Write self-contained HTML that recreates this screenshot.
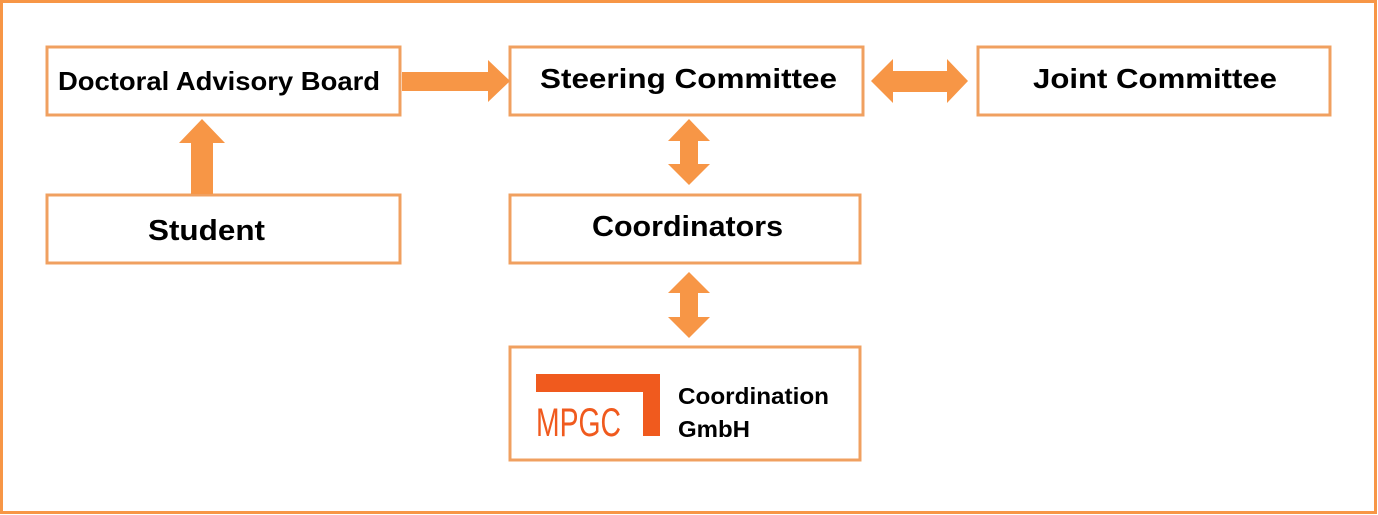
<!DOCTYPE html>
<html><head><meta charset="utf-8"><style>
html,body{margin:0;padding:0;background:#fff;}
svg{display:block;}
text{font-family:"Liberation Sans",sans-serif;font-weight:bold;fill:#000;}
</style></head><body>
<svg width="1378" height="515" viewBox="0 0 1378 515" xmlns="http://www.w3.org/2000/svg">
<rect x="1.5" y="1.5" width="1374" height="511" fill="#fff" stroke="#f79646" stroke-width="3"/>
<g fill="#fff" stroke="#f0a060" stroke-width="3">
<rect x="47" y="47" width="353" height="68"/>
<rect x="510" y="47" width="353" height="68"/>
<rect x="978" y="47" width="352" height="68"/>
<rect x="47" y="195" width="353" height="68"/>
<rect x="510" y="195" width="350" height="68"/>
<rect x="510" y="347" width="350" height="113"/>
</g>
<g fill="#f79646">
<polygon points="402,72 488,72 488,60 510,81 488,102 488,91 402,91"/>
<polygon points="871,81 893,59 893,71 947,71 947,59 968,81 947,103 947,92 893,92 893,103"/>
<polygon points="202,119 225,143 213,143 213,194 191,194 191,143 179,143"/>
<polygon points="689,119 710,141 698,141 698,164 710,164 689,185 668,164 680,164 680,141 668,141"/>
<polygon points="689,272 710,293 698,293 698,317 710,317 689,338 668,317 680,317 680,293 668,293"/>
</g>
<text x="58" y="90" font-size="26" textLength="322" lengthAdjust="spacingAndGlyphs">Doctoral Advisory Board</text>
<text x="540" y="88" font-size="28" textLength="297" lengthAdjust="spacingAndGlyphs">Steering Committee</text>
<text x="1033" y="88" font-size="28" textLength="244" lengthAdjust="spacingAndGlyphs">Joint Committee</text>
<text x="148" y="240" font-size="29" textLength="117" lengthAdjust="spacingAndGlyphs">Student</text>
<text x="592" y="236" font-size="29" textLength="191" lengthAdjust="spacingAndGlyphs">Coordinators</text>
<rect x="536" y="374" width="124" height="18" fill="#f05a1e"/>
<rect x="643" y="374" width="17" height="62" fill="#f05a1e"/>
<text x="536" y="436" font-size="40" style="font-weight:normal;fill:#f05a1e" textLength="85" lengthAdjust="spacingAndGlyphs">MPGC</text>
<text x="678" y="404" font-size="23" textLength="151" lengthAdjust="spacingAndGlyphs">Coordination</text>
<text x="678" y="437" font-size="23" textLength="72" lengthAdjust="spacingAndGlyphs">GmbH</text>
</svg>
</body></html>
